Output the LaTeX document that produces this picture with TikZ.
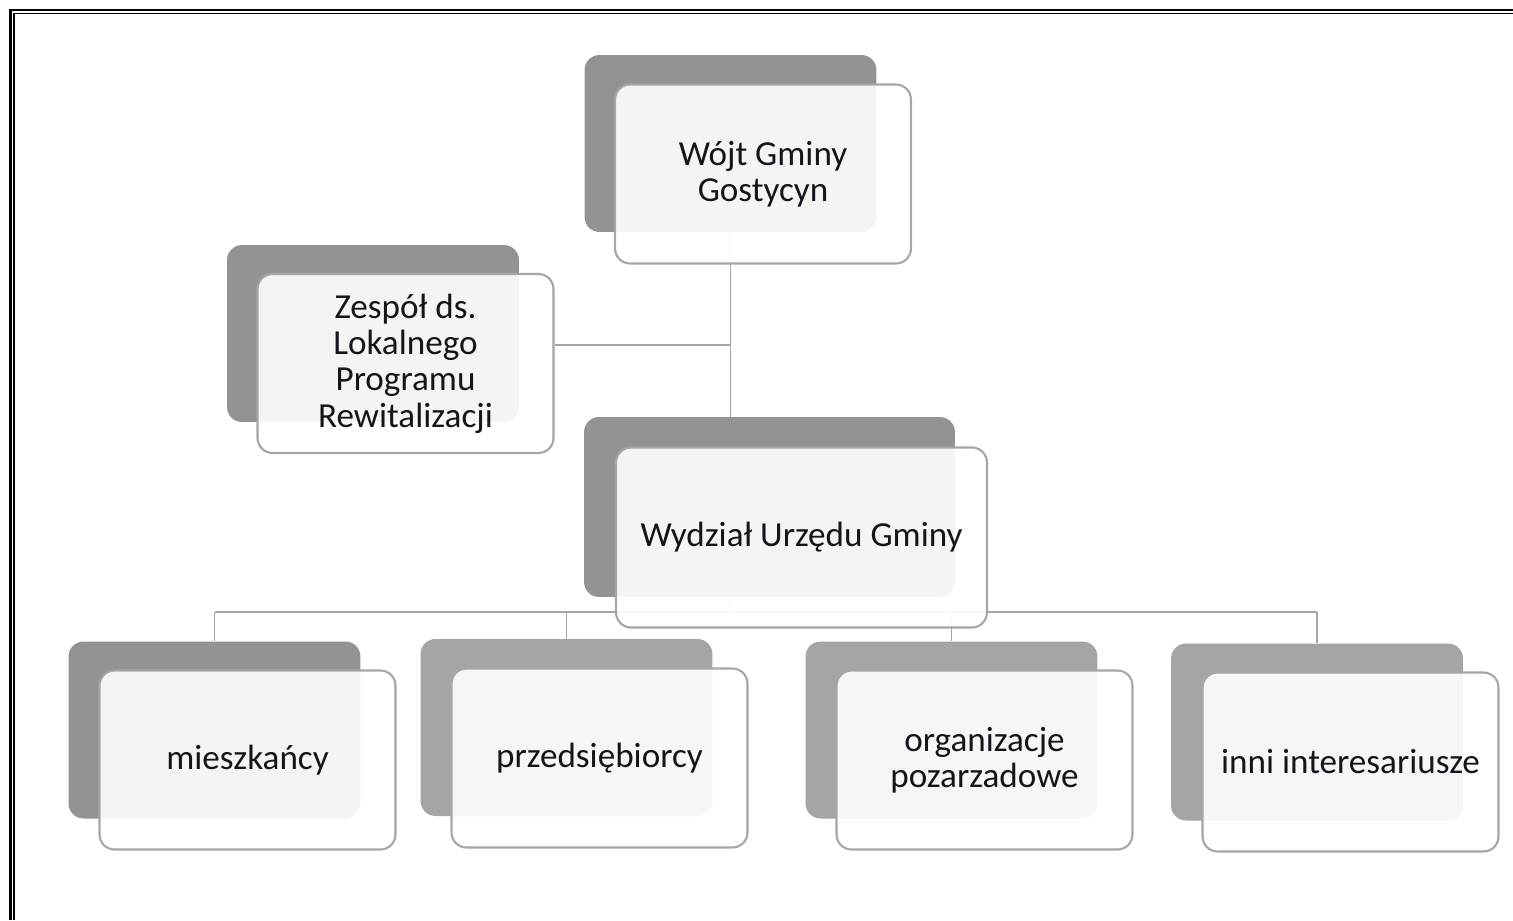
\documentclass[tikz,border=0pt]{standalone}
\usepackage{fontspec}
\setmainfont{Carlito}
\usetikzlibrary{positioning,calc,backgrounds}
\definecolor{backgray}{HTML}{939393}
\definecolor{backgray2}{HTML}{A5A5A5}
\definecolor{edgegray}{HTML}{A6A6A6}
\definecolor{textdark}{HTML}{14141C}
\tikzset{main base/.style={draw=edgegray,line width=1.2pt,text centered, }, }
\tikzset{main node/.style={rectangle,rounded corners=0.3cm,main base,
    fill=white,fill opacity=0.9,text opacity=1,text=textdark,
    minimum width=5.92cm,minimum height=3.58cm,inner sep=2pt,align=center,
    font=\fontsize{20}{20.7}\selectfont}, }
\tikzset{main node2/.style={main node,minimum width=7.42cm,minimum height=3.6cm}, }
\tikzset{back node/.style={rectangle,rounded corners=0.3cm,fill=backgray,
    minimum width=5.84cm,minimum height=3.54cm,inner sep=0pt}, }
\tikzset{back node2/.style={back node,minimum width=7.42cm,minimum height=3.6cm}, }
\tikzset{linea/.style={draw=edgegray,line width=1.1pt}}
\tikzset{frame line/.style={draw=black,line width=#1}}
\begin{document}
\begin{tikzpicture}[x=0.02cm,y=-0.02cm]
  \useasboundingbox (0,0) rectangle (1513,920);
  % double frame, open to the right and at the bottom
  \draw[frame line=1.7pt] (10.5,920) -- (10.5,10) -- (1513,10);
  \draw[frame line=1.1pt] (14,920) -- (14,13.5) -- (1513,13.5);
  %
  \node[back node] (1b) at (730.5,143.5) {};
  \node[main node] (1) at ($(1b)+(32.5,30.5)$) {W\'ojt Gminy\\Gostycyn};

  \node[back node] (2b) at (373,333.5) {};
  \node[main node] (2) at ($(2b)+(32.5,30)$) {Zesp\'o\l{} ds.\\Lokalnego\\Programu\\Rewitalizacji};

  \node[back node2] (3b) at (769.5,507) {};
  \node[main node2] (3) at ($(3b)+(32,30.5)$) {Wydzia\l{} Urz\k{e}du Gminy};

  \node[back node] (4b) at (214.5,730) {};
  \node[main node] (4) at ($(4b)+(33,30)$) {mieszka\'ncy};

  \node[back node,fill=backgray2] (5b) at (566.5,727.5) {};
  \node[main node] (5) at ($(5b)+(33,30.5)$) {przedsi\k{e}biorcy};

  \node[back node,fill=backgray2] (6b) at (951.5,730) {};
  \node[main node] (6) at ($(6b)+(33,30)$) {organizacje\\pozarzadowe};

  \node[back node,fill=backgray2] (7b) at (1317,732) {};
  \node[main node] (7) at ($(7b)+(33.5,30)$) {inni interesariusze};
  %
  \coordinate (asst) at (731,345);
  \coordinate (bus) at (0,612);
  \begin{scope}[on background layer]
    \draw[linea] (1b.south) -- (1b.south |- 3b.north);
    \draw[linea] (2.east |- asst) -- (1b.south |- asst);
    \draw[linea] (1b.south |- 3b.south) -- (1b.south |- bus);
    \draw[linea] (4b.north |- bus) -- (7b.north |- bus);
    \foreach \x in {4b,5b,6b,7b}
      \draw[linea] (\x.north |- bus) -- (\x.north);
  \end{scope}
\end{tikzpicture}
\end{document}
